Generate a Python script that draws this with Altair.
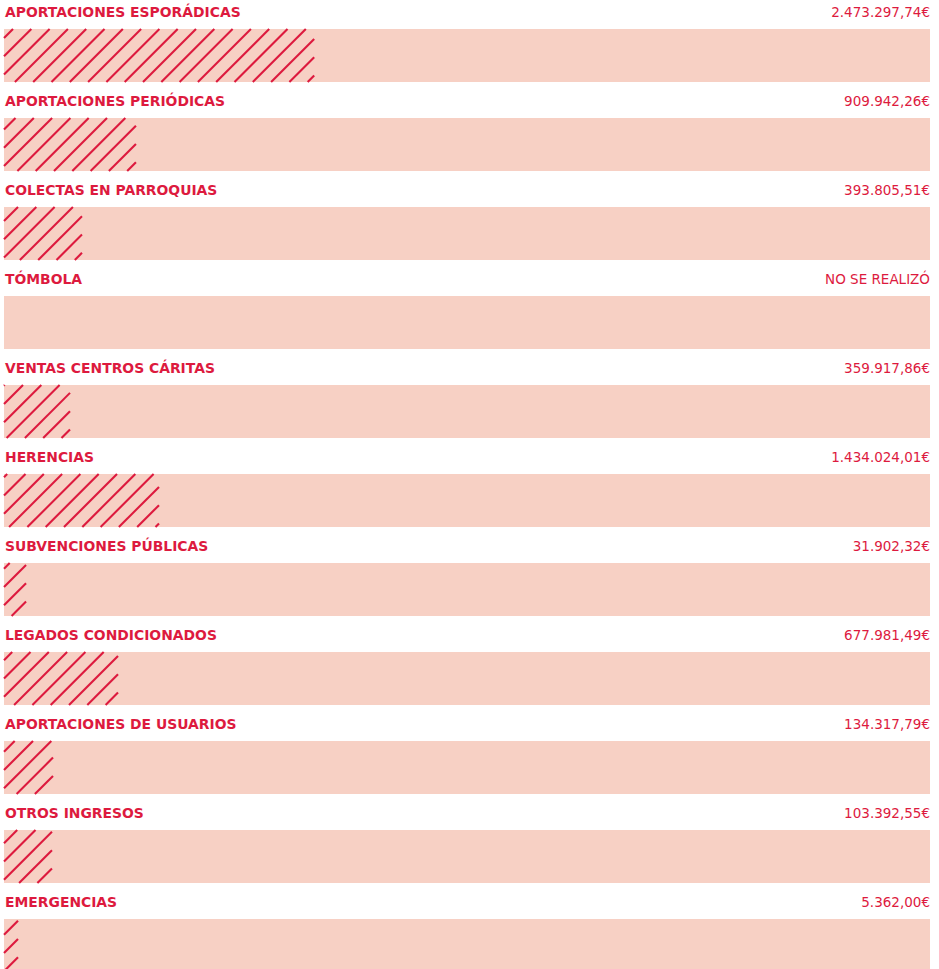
import altair as alt
import pandas as pd
import numpy as np

# ---- data ----
categories = [
    "APORTACIONES ESPORÁDICAS", "APORTACIONES PERIÓDICAS", "COLECTAS EN PARROQUIAS",
    "TÓMBOLA", "VENTAS CENTROS CÁRITAS", "HERENCIAS", "SUBVENCIONES PÚBLICAS",
    "LEGADOS CONDICIONADOS", "APORTACIONES DE USUARIOS", "OTROS INGRESOS", "EMERGENCIAS",
]
amount_labels = [
    "2.473.297,74€", "909.942,26€", "393.805,51€", "NO SE REALIZÓ", "359.917,86€",
    "1.434.024,01€", "31.902,32€", "677.981,49€", "134.317,79€", "103.392,55€", "5.362,00€",
]
# share of the track covered by the hatched bar, as drawn in the reference
bar_share = [0.335, 0.1425, 0.0842, 0.0, 0.0713, 0.1674, 0.0238, 0.1231, 0.0529, 0.0518, 0.0151]

# ---- layout / style ----
W, H = 939, 969
ROW_PX = 89.0
X0, X1 = 4, 930
TRACK_TOP, TRACK_BOT, LABEL_Y = 29.0, 82.0, 12.8
HATCH_STEP = 18.3
HATCH_PHASE = 42.0
RED = "#DD1A3E"
PINK = "#F7D0C4"

n = len(categories)
rows = pd.DataFrame({
    "cat": categories,
    "amt": amount_labels,
    "share": bar_share,
    "zero": 0.0,
    "one": 1.0,
    "label_y": [i + LABEL_Y / ROW_PX for i in range(n)],
    "top": [i + TRACK_TOP / ROW_PX for i in range(n)],
    "bot": [i + TRACK_BOT / ROW_PX for i in range(n)],
})

# hatch segments (45°) clipped to each bar, computed from bar_share
segs = []
tw = X1 - X0
for i, s in enumerate(bar_share):
    if s <= 0:
        continue
    xa0, xa1 = X0, X0 + s * tw
    yt, yb = TRACK_TOP + i * ROW_PX, TRACK_BOT + i * ROW_PX
    cmin, cmax = xa0 + yt, xa1 + yb
    k0 = int(np.floor((cmin - HATCH_PHASE) / HATCH_STEP))
    k1 = int(np.ceil((cmax - HATCH_PHASE) / HATCH_STEP))
    for k in range(k0, k1 + 1):
        c = HATCH_PHASE + k * HATCH_STEP
        xa = max(xa0, c - yb)
        xb = min(xa1, c - yt)
        if xb - xa > 0.3:
            segs.append({
                "x": (xa - X0) / tw, "y": (c - xa) / ROW_PX,
                "x2": (xb - X0) / tw, "y2": (c - xb) / ROW_PX,
            })
hatch = pd.DataFrame(segs)

xs = alt.Scale(domain=[0, 1], range=[X0, X1])
ys = alt.Scale(domain=[0, H / ROW_PX], range=[0, H])

track = alt.Chart(rows).mark_rect(color=PINK, clip=True).encode(
    x=alt.X("zero:Q", scale=xs, axis=None),
    x2="one:Q",
    y=alt.Y("top:Q", scale=ys, axis=None),
    y2="bot:Q",
)

lines = alt.Chart(hatch).mark_rule(color=RED, strokeWidth=2.1, clip=True).encode(
    x=alt.X("x:Q", scale=xs, axis=None),
    x2="x2:Q",
    y=alt.Y("y:Q", scale=ys, axis=None),
    y2="y2:Q",
)

names = alt.Chart(rows).mark_text(
    align="left", baseline="middle", color=RED, font="DejaVu Sans",
    fontWeight="bold", fontSize=13.9, dx=1,
).encode(
    x=alt.X("zero:Q", scale=xs, axis=None),
    y=alt.Y("label_y:Q", scale=ys, axis=None),
    text="cat:N",
)

vals = alt.Chart(rows).mark_text(
    align="right", baseline="middle", color=RED, font="DejaVu Sans",
    fontSize=13.5,
).encode(
    x=alt.X("one:Q", scale=xs, axis=None),
    y=alt.Y("label_y:Q", scale=ys, axis=None),
    text="amt:N",
)

chart = alt.layer(track, lines, names, vals).properties(
    width=W, height=H, padding=0, autosize=alt.AutoSizeParams(type="none"),
    background="white",
).configure_view(stroke=None)

chart.save("out.html", embed_options={"renderer": "svg", "actions": False})
